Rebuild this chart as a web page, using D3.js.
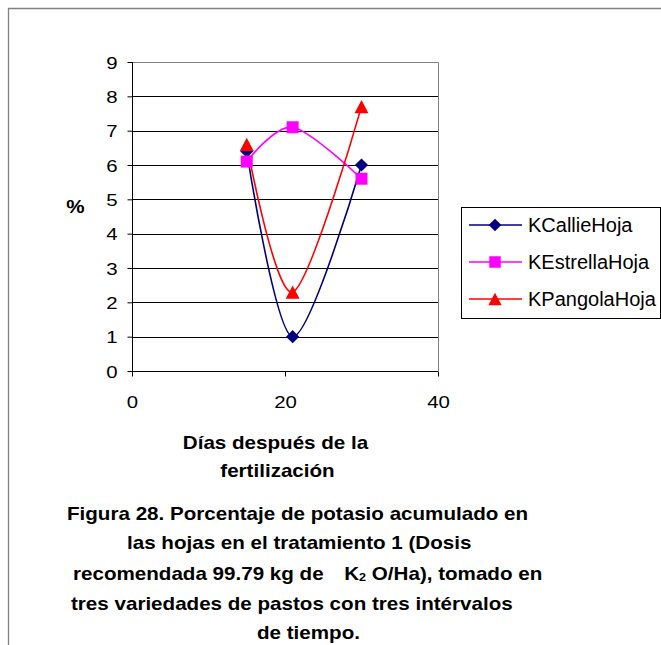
<!DOCTYPE html>
<html>
<head>
<meta charset="utf-8">
<script src="https://cdn.jsdelivr.net/npm/d3@7"></script>
<style>
  html, body { margin: 0; padding: 0; background: #fff; }
  svg { display: block; }
  text { font-family: "Liberation Sans", Arial, sans-serif; fill: #000; }
</style>
</head>
<body>
<script>
// ---- data ----
const days = [15, 21, 30];
const seriesNames = ["KCallieHoja", "KEstrellaHoja", "KPangolaHoja"];
const kCallie = [6.4, 1.0, 6.0];
const kEstrella = [6.1, 7.1, 5.6];
const kPangola = [6.6, 2.3, 7.7];
const xTicks = [0, 20, 40];
const yTicks = [0, 1, 2, 3, 4, 5, 6, 7, 8, 9];
const xTitle = ["Días después de la", "fertilización"];
const yTitle = "%";
const captionLines = [
  "Figura 28. Porcentaje de potasio acumulado en",
  "las hojas en el tratamiento 1 (Dosis",
  "recomendada 99.79 kg de",
  "tres variedades de pastos con tres intérvalos",
  "de tiempo."
];

// ---- layout ----
const W = 661, H = 645;
const svg = d3.select("body").append("svg").attr("width", W).attr("height", H);

const x = d3.scaleLinear().domain([0, 40]).range([132, 438]);
const y = d3.scaleLinear().domain([0, 9]).range([371, 62]);

const colors = ["#000080", "#FF00FF", "#FF0000"];
const shapes = ["diamond", "square", "triangle"];

function shapePath(kind, s) {
  if (kind === "diamond") {
    const r = s * 0.55;
    return `M0,${-r}L${r},0L0,${r}L${-r},0Z`;
  } else if (kind === "square") {
    const r = s * 0.5;
    return `M${-r},${-r}H${r}V${r}H${-r}Z`;
  } else {
    const w = s * 0.58, h = s * 0.55;
    return `M0,${-h}L${w},${h}L${-w},${h}Z`;
  }
}

// outer frame
svg.append("path")
  .attr("d", `M8.5,${H}V8.5H${W}`)
  .attr("fill", "none").attr("stroke", "#808080").attr("stroke-width", 1.3);

// gridlines
svg.append("g").selectAll("line").data(yTicks.filter(d => d > 0 && d < 9)).join("line")
  .attr("x1", x(0)).attr("x2", x(40))
  .attr("y1", d => Math.round(y(d)) + 0.5).attr("y2", d => Math.round(y(d)) + 0.5)
  .attr("stroke", "#000").attr("stroke-width", 1);

// plot border (top & right gray)
svg.append("path")
  .attr("d", `M${x(0)},${Math.round(y(9)) + 0.5}H${Math.round(x(40)) + 0.5}V${y(0)}`)
  .attr("fill", "none").attr("stroke", "#808080").attr("stroke-width", 1);

// axes
const yAxis = d3.axisLeft(y).tickValues(yTicks).tickSize(5).tickPadding(10).tickFormat(d3.format("d"));
const gy = svg.append("g").attr("transform", `translate(${Math.round(x(0)) + 0.5},0)`).call(yAxis);
gy.select(".domain").attr("stroke", "#000").attr("d", `M0,${y(9)}V${y(0)}`);
gy.selectAll(".tick line").attr("stroke", "#000");
gy.selectAll(".tick text")
  .attr("font-size", 17).attr("font-family", "Liberation Sans, Arial, sans-serif")
  .attr("x", null).attr("dy", "0.36em")
  .attr("transform", "translate(-15,0) scale(1.2,1)");

const xAxis = d3.axisBottom(x).tickValues(xTicks).tickSize(5).tickPadding(0).tickFormat(d3.format("d"));
const gx = svg.append("g").attr("transform", `translate(0,${Math.round(y(0)) + 0.5})`).call(xAxis);
gx.select(".domain").attr("stroke", "#000").attr("d", `M${x(0)},0H${x(40)}`);
gx.selectAll(".tick line").attr("stroke", "#000");
gx.selectAll(".tick text")
  .attr("font-size", 17).attr("font-family", "Liberation Sans, Arial, sans-serif")
  .attr("y", null).attr("dy", null)
  .attr("transform", "translate(0,36) scale(1.2,1)");

// series
const seriesData = [kCallie, kEstrella, kPangola];
const line = d3.line().x(d => x(d[0])).y(d => y(d[1])).curve(d3.curveCardinal.tension(0.1));

seriesData.forEach((vals, i) => {
  const pts = days.map((d, j) => [d, vals[j]]);
  svg.append("path").datum(pts)
    .attr("d", line).attr("fill", "none")
    .attr("stroke", colors[i]).attr("stroke-width", 1.6);
});
seriesData.forEach((vals, i) => {
  const pts = days.map((d, j) => [d, vals[j]]);
  svg.append("g").selectAll("path").data(pts).join("path")
    .attr("d", shapePath(shapes[i], 12))
    .attr("transform", d => `translate(${x(d[0])},${y(d[1])})`)
    .attr("fill", colors[i]);
});

// axis titles
const boldScale = 1.145;
function scaledText(g, str, cx, by, size, anchor, weight) {
  return g.append("text")
    .attr("transform", `translate(${cx},${by}) scale(${boldScale},1)`)
    .attr("text-anchor", anchor)
    .attr("font-size", size)
    .attr("font-weight", weight || "bold")
    .text(str);
}
scaledText(svg, yTitle, 75.5, 213, 18, "middle");
scaledText(svg, xTitle[0], 275.5, 449, 18, "middle");
scaledText(svg, xTitle[1], 277.5, 477, 18, "middle");

// legend
const lg = svg.append("g");
lg.append("rect").attr("x", 461.5).attr("y", 207.5).attr("width", 199).attr("height", 111)
  .attr("fill", "#fff").attr("stroke", "#000").attr("stroke-width", 1);
const legendY = [225, 262, 299];
seriesNames.forEach((name, i) => {
  const yy = legendY[i];
  lg.append("line").attr("x1", 469).attr("x2", 522).attr("y1", yy).attr("y2", yy)
    .attr("stroke", colors[i]).attr("stroke-width", 1.6);
  lg.append("path").attr("d", shapePath(shapes[i], 11.5))
    .attr("transform", `translate(495,${yy})`).attr("fill", colors[i]);
  lg.append("text").attr("x", 528).attr("y", yy).attr("dy", "0.36em")
    .attr("font-size", 20).text(name);
});

// caption
const capStarts = [67, 127, 73, 71, 257];
const capBase = [520, 549, 580, 610, 639];
captionLines.forEach((str, i) => {
  const t = svg.append("text")
    .attr("transform", `translate(${capStarts[i]},${capBase[i]}) scale(${boldScale},1)`)
    .attr("font-size", 18).attr("font-weight", "bold").text(str);
  if (i === 2) {
    t.append("tspan").attr("dx", 18).text("K");
    t.append("tspan").attr("font-size", 11).attr("dy", 1).text("2");
    t.append("tspan").attr("dy", -1).text(" O/Ha), tomado en");
  }
});
</script>
</body>
</html>
